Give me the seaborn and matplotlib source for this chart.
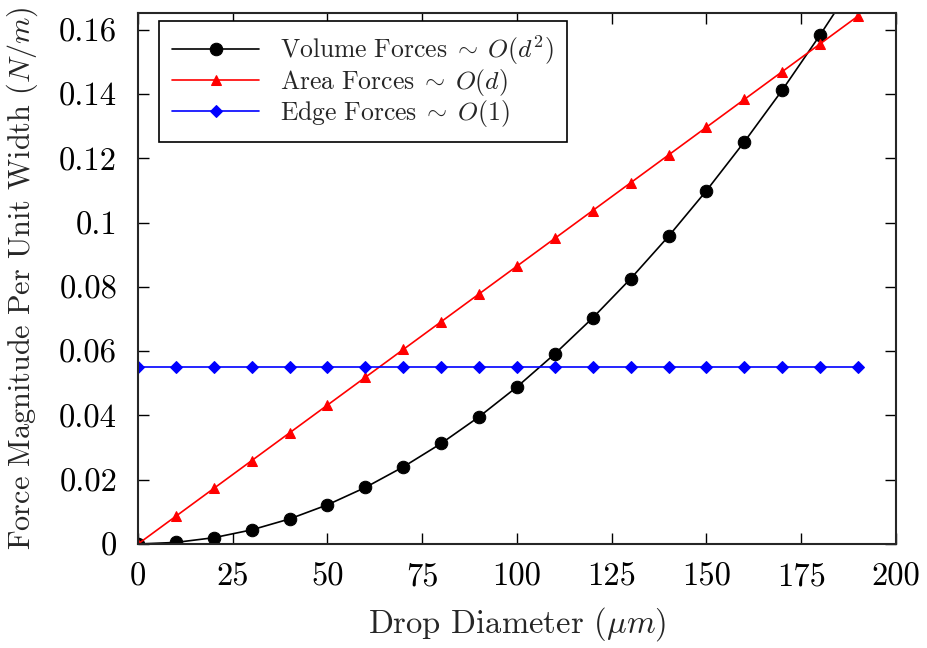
import matplotlib
matplotlib.use("Agg")
import matplotlib.pyplot as plt
import seaborn as sns
import pandas as pd
from matplotlib.ticker import FuncFormatter, MultipleLocator

diameter = [0, 10, 20, 30, 40, 50, 60, 70, 80, 90, 100,
            110, 120, 130, 140, 150, 160, 170, 180, 190]
volume = [0.0, 0.00049, 0.00196, 0.0044, 0.0078, 0.0122, 0.0176, 0.0240,
          0.0313, 0.0396, 0.0489, 0.0592, 0.0704, 0.0826, 0.0958, 0.1100,
          0.1252, 0.1413, 0.1585, 0.1765]
area = [0.0, 0.00865, 0.0173, 0.02595, 0.0346, 0.04325, 0.0519, 0.06055,
        0.0692, 0.07785, 0.0865, 0.09515, 0.1038, 0.11245, 0.1211, 0.12975,
        0.1384, 0.14705, 0.1557, 0.16435]
edge = [0.055] * 20

labels = [r"$\mathrm{Volume\ Forces}\;\sim\;O(d^2)$",
          r"$\mathrm{Area\ Forces}\;\sim\;O(d)$",
          r"$\mathrm{Edge\ Forces}\;\sim\;O(1)$"]
colors = ["black", "red", "blue"]
markers = ["o", "^", "D"]
msizes = [9.0, 7.5, 6.0]

sns.set_style("ticks")
plt.rcParams["font.family"] = ["cmr10", "DejaVu Serif"]
plt.rcParams["mathtext.fontset"] = "cm"
plt.rcParams["axes.formatter.use_mathtext"] = True
plt.rcParams["axes.unicode_minus"] = False

fig = plt.figure(figsize=(9.28, 6.48), dpi=100)
ax = fig.add_axes([0.1487, 0.1605, 0.8168, 0.8195])

for ys, lab, c, m, ms in zip([volume, area, edge], labels, colors, markers, msizes):
    df = pd.DataFrame({"d": diameter, "f": ys})
    sns.lineplot(data=df, x="d", y="f", ax=ax, color=c, marker=m,
                 markersize=ms, markeredgecolor=c, linewidth=1.2,
                 label=lab)

ax.set_xlim(0, 200)
ax.set_ylim(0, 0.1653)
ax.xaxis.set_major_locator(MultipleLocator(25))
ax.yaxis.set_major_locator(MultipleLocator(0.02))
ax.xaxis.set_major_formatter(FuncFormatter(lambda v, p: "%g" % round(v, 6)))
ax.yaxis.set_major_formatter(FuncFormatter(lambda v, p: "%g" % round(v, 6)))
ax.tick_params(direction="in", length=8, width=1, top=True, right=True,
               labelsize=23.5, colors="black")
ax.tick_params(axis="x", pad=13)
ax.tick_params(axis="y", pad=15)
for s in ax.spines.values():
    s.set_linewidth(1.5)
    s.set_visible(True)

ax.set_xlabel(r"Drop Diameter $(\mu m)$", fontsize=23.5, labelpad=10)
ax.set_ylabel(r"Force Magnitude Per Unit Width $(N/m)$", fontsize=21.75)
ax.yaxis.set_label_coords(-0.129, 0.5)

leg = ax.legend(loc="upper left", bbox_to_anchor=(0.028, 0.985), fontsize=18.5,
                frameon=True, fancybox=False, edgecolor="black",
                handlelength=3.4, handletextpad=0.8, borderpad=0.5,
                labelspacing=0.0, borderaxespad=0.0)
leg.get_frame().set_linewidth(1.2)
leg.get_frame().set_alpha(1)

fig.savefig("out.png", dpi=100)
